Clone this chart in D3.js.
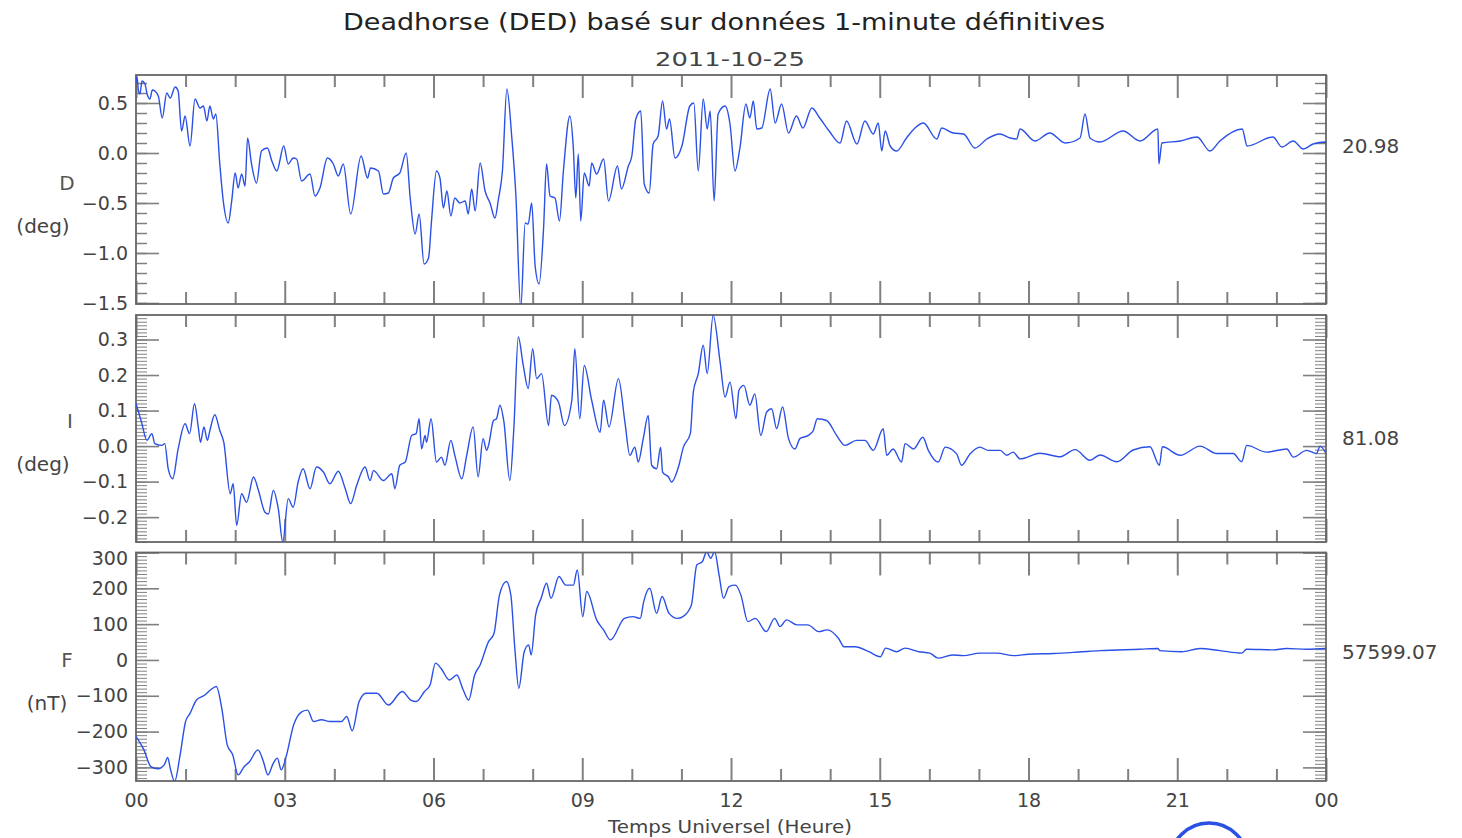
<!DOCTYPE html>
<html>
<head>
<meta charset="utf-8">
<title>Deadhorse (DED) 2011-10-25</title>
<script src="https://d3js.org/d3.v7.min.js"></script>
<style>
  body { margin: 0; padding: 0; background: #fff; }
  svg text { font-family: "DejaVu Sans", sans-serif; fill: #3c3c3c; }
  .axis text { font-size: 19px; fill: #444; }
  .axis line { stroke: #808080; }
</style>
</head>
<body>
<div id="chart"></div>
<script>

// hour ticks along the bottom
var majorHours = [0, 3, 6, 9, 12, 15, 18, 21, 24];
var hourLabels = ["00", "03", "06", "09", "12", "15", "18", "21", "00"];

// y tick values per component
var dTicks = [-1.5, -1.0, -0.5, 0.0, 0.5];
var iTicks = [-0.2, -0.1, 0.0, 0.1, 0.2, 0.3];
var fTicks = [-300, -200, -100, 0, 100, 200, 300];

var compNames = ["D", "I", "F"];
var compUnits = ["(deg)", "(deg)", "(nT)"];
var baselines = ["20.98", "81.08", "57599.07"];

// [hour UT, value]
var seriesD = [
[0.00,0.70],[0.02,0.76],[0.05,0.62],[0.08,0.59],[0.12,0.72],[0.18,0.69],[0.23,0.58],[0.28,0.54],[0.33,0.63],[0.38,0.62],
[0.45,0.57],[0.53,0.35],[0.62,0.60],[0.69,0.55],[0.79,0.66],[0.85,0.62],[0.92,0.22],[0.99,0.37],[1.09,0.07],[1.19,0.54],
[1.29,0.45],[1.36,0.47],[1.43,0.32],[1.49,0.47],[1.56,0.34],[1.61,0.39],[1.69,-0.11],[1.76,-0.48],[1.86,-0.70],[1.93,-0.48],
[2.00,-0.20],[2.06,-0.35],[2.13,-0.21],[2.20,-0.33],[2.25,0.15],[2.33,-0.11],[2.43,-0.30],[2.53,0.02],[2.65,0.05],[2.74,-0.08],
[2.84,-0.18],[2.98,0.07],[3.07,-0.11],[3.17,-0.05],[3.24,-0.06],[3.34,-0.28],[3.51,-0.21],[3.61,-0.43],[3.71,-0.35],[3.86,-0.05],
[3.98,-0.11],[4.08,-0.23],[4.18,-0.11],[4.33,-0.61],[4.54,-0.03],[4.67,-0.25],[4.73,-0.15],[4.89,-0.18],[4.99,-0.41],[5.09,-0.40],
[5.19,-0.25],[5.32,-0.20],[5.45,0.00],[5.53,-0.45],[5.63,-0.81],[5.71,-0.61],[5.81,-1.11],[5.90,-1.05],[5.96,-0.68],[6.06,-0.18],
[6.13,-0.25],[6.20,-0.55],[6.27,-0.38],[6.35,-0.63],[6.43,-0.45],[6.53,-0.50],[6.64,-0.48],[6.70,-0.61],[6.77,-0.36],[6.84,-0.58],
[6.94,-0.10],[7.04,-0.38],[7.14,-0.50],[7.24,-0.65],[7.31,-0.46],[7.39,-0.18],[7.48,0.64],[7.58,0.15],[7.66,-0.41],[7.76,-1.55],
[7.85,-0.70],[7.91,-0.71],[7.98,-0.50],[8.05,-1.13],[8.13,-1.31],[8.22,-0.75],[8.28,-0.11],[8.35,-0.43],[8.45,-0.45],[8.54,-0.68],
[8.62,-0.18],[8.75,0.37],[8.82,0.05],[8.87,-0.45],[8.92,-0.01],[8.97,-0.68],[9.04,-0.20],[9.14,-0.33],[9.19,-0.10],[9.29,-0.21],
[9.43,-0.06],[9.53,-0.48],[9.71,-0.13],[9.79,-0.36],[9.93,-0.13],[10.00,-0.03],[10.08,0.34],[10.18,0.42],[10.25,-0.31],[10.35,-0.40],
[10.43,0.09],[10.53,0.17],[10.62,0.52],[10.70,0.24],[10.76,0.34],[10.87,-0.05],[11.01,0.07],[11.17,0.47],[11.25,0.50],[11.34,-0.18],
[11.44,0.54],[11.52,0.24],[11.58,0.42],[11.66,-0.48],[11.74,0.39],[11.88,0.47],[11.98,0.29],[12.08,-0.18],[12.18,0.05],[12.30,0.49],
[12.38,0.35],[12.45,0.52],[12.52,0.24],[12.62,0.25],[12.79,0.64],[12.89,0.30],[13.02,0.49],[13.16,0.20],[13.32,0.37],[13.45,0.25],
[13.63,0.45],[13.79,0.35],[13.98,0.22],[14.20,0.10],[14.33,0.32],[14.54,0.09],[14.70,0.32],[14.87,0.19],[14.97,0.30],[15.04,0.02],
[15.11,0.22],[15.21,0.07],[15.34,0.02],[15.54,0.15],[15.71,0.25],[15.88,0.30],[16.15,0.14],[16.25,0.25],[16.48,0.20],[16.69,0.19],
[16.92,0.05],[17.16,0.14],[17.42,0.19],[17.63,0.15],[17.76,0.14],[17.83,0.24],[18.13,0.12],[18.43,0.20],[18.74,0.10],[19.04,0.15],
[19.14,0.39],[19.24,0.15],[19.44,0.11],[19.91,0.22],[20.25,0.12],[20.61,0.24],[20.63,-0.11],[20.69,0.10],[21.06,0.12],[21.40,0.16],
[21.66,0.02],[21.86,0.12],[22.31,0.24],[22.41,0.07],[22.93,0.16],[23.11,0.06],[23.34,0.12],[23.54,0.04],[23.74,0.09],[23.98,0.11],
[24.00,0.10]
];

var seriesI = [
[0.00,0.120],[0.11,0.068],[0.22,0.016],[0.32,0.035],[0.38,0.007],[0.52,0.002],[0.58,0.007],[0.65,-0.064],[0.74,-0.092],[0.85,-0.008],
[0.99,0.063],[1.08,0.035],[1.18,0.119],[1.26,0.049],[1.30,0.011],[1.37,0.054],[1.44,0.016],[1.49,0.044],[1.59,0.088],[1.69,0.044],
[1.77,0.011],[1.90,-0.134],[1.96,-0.106],[2.03,-0.223],[2.13,-0.134],[2.23,-0.158],[2.37,-0.087],[2.47,-0.125],[2.60,-0.186],[2.67,-0.191],
[2.77,-0.125],[2.87,-0.177],[2.96,-0.270],[3.07,-0.148],[3.17,-0.172],[3.27,-0.101],[3.37,-0.064],[3.51,-0.120],[3.64,-0.059],[3.78,-0.073],
[3.91,-0.106],[4.08,-0.071],[4.22,-0.120],[4.33,-0.162],[4.45,-0.111],[4.62,-0.059],[4.72,-0.097],[4.79,-0.069],[4.99,-0.097],[5.16,-0.078],
[5.22,-0.120],[5.32,-0.054],[5.43,-0.045],[5.56,0.030],[5.65,0.035],[5.71,0.077],[5.76,-0.008],[5.83,0.030],[5.86,0.011],[5.95,0.077],
[6.06,-0.045],[6.16,-0.031],[6.23,-0.054],[6.35,0.016],[6.43,-0.026],[6.57,-0.092],[6.67,-0.026],[6.80,0.054],[6.90,-0.087],[7.00,0.021],
[7.07,-0.012],[7.11,0.002],[7.21,0.072],[7.27,0.077],[7.34,0.115],[7.42,0.068],[7.54,-0.097],[7.62,0.049],[7.71,0.307],[7.81,0.227],
[7.91,0.162],[8.00,0.274],[8.08,0.190],[8.18,0.204],[8.32,0.058],[8.38,0.143],[8.52,0.124],[8.64,0.058],[8.79,0.129],[8.85,0.274],
[8.95,0.077],[9.04,0.227],[9.19,0.129],[9.36,0.039],[9.43,0.129],[9.54,0.054],[9.73,0.190],[9.86,0.068],[9.96,-0.026],[10.06,-0.003],
[10.13,-0.045],[10.23,0.021],[10.33,0.086],[10.40,-0.054],[10.50,-0.064],[10.58,-0.003],[10.62,-0.073],[10.74,-0.087],[10.80,-0.101],[10.94,-0.059],
[11.04,-0.003],[11.18,0.035],[11.24,0.152],[11.34,0.204],[11.44,0.284],[11.52,0.204],[11.64,0.368],[11.78,0.237],[11.88,0.138],[11.98,0.180],
[12.10,0.077],[12.16,0.157],[12.26,0.171],[12.38,0.115],[12.48,0.147],[12.60,0.030],[12.72,0.096],[12.82,0.105],[12.92,0.049],[13.04,0.110],
[13.16,0.021],[13.29,-0.008],[13.39,0.021],[13.56,0.030],[13.66,0.044],[13.74,0.077],[13.93,0.072],[14.13,0.030],[14.30,0.002],[14.53,0.016],
[14.70,0.016],[14.87,-0.012],[15.07,0.049],[15.14,-0.026],[15.27,-0.008],[15.44,-0.045],[15.51,0.007],[15.68,-0.008],[15.87,0.025],[15.98,-0.012],
[16.18,-0.045],[16.32,-0.003],[16.55,-0.022],[16.65,-0.054],[16.82,-0.022],[17.02,-0.003],[17.19,-0.012],[17.43,-0.012],[17.56,-0.026],[17.69,-0.017],
[17.83,-0.036],[18.23,-0.020],[18.64,-0.030],[18.94,-0.010],[19.24,-0.040],[19.44,-0.025],[19.78,-0.044],[20.11,-0.011],[20.45,-0.002],[20.64,-0.054],
[20.70,-0.002],[21.06,-0.026],[21.46,0.000],[21.80,-0.021],[22.13,-0.021],[22.30,-0.044],[22.40,0.002],[22.80,-0.017],[23.21,-0.008],[23.34,-0.031],
[23.61,-0.012],[23.81,-0.021],[23.88,0.000],[24.00,-0.021]
];

var seriesF = [
[0.00,-214],[0.16,-251],[0.30,-298],[0.44,-304],[0.57,-293],[0.64,-272],[0.69,-302],[0.78,-339],[0.89,-265],[1.00,-172],
[1.09,-149],[1.22,-112],[1.39,-98],[1.50,-84],[1.62,-74],[1.73,-135],[1.84,-237],[1.95,-265],[2.06,-321],[2.18,-298],
[2.29,-284],[2.46,-251],[2.57,-284],[2.66,-321],[2.77,-288],[2.85,-274],[2.93,-307],[3.02,-274],[3.18,-181],[3.35,-144],
[3.46,-140],[3.58,-172],[3.74,-167],[3.91,-172],[4.14,-172],[4.25,-158],[4.36,-198],[4.50,-116],[4.64,-93],[4.86,-93],
[5.09,-126],[5.37,-88],[5.54,-112],[5.65,-116],[5.82,-88],[5.93,-70],[6.04,-9],[6.15,-23],[6.32,-56],[6.47,-42],
[6.60,-84],[6.71,-112],[6.83,-42],[6.94,-14],[7.11,51],[7.22,74],[7.33,181],[7.47,219],[7.56,181],[7.64,33],
[7.72,-79],[7.83,23],[7.92,42],[7.97,14],[8.06,126],[8.17,172],[8.28,214],[8.37,172],[8.53,233],[8.67,209],
[8.82,209],[8.90,251],[9.01,121],[9.09,191],[9.29,112],[9.43,84],[9.57,56],[9.85,116],[10.02,121],[10.17,116],
[10.24,163],[10.36,200],[10.50,130],[10.61,177],[10.75,130],[10.92,116],[11.03,121],[11.20,153],[11.31,265],[11.42,274],
[11.51,302],[11.59,284],[11.67,302],[11.76,237],[11.85,172],[11.96,205],[12.09,209],[12.20,181],[12.34,107],[12.49,116],
[12.71,79],[12.88,116],[12.99,93],[13.12,112],[13.33,98],[13.55,98],[13.77,79],[13.94,84],[14.17,60],[14.28,37],
[14.50,37],[14.78,23],[15.01,9],[15.12,33],[15.34,23],[15.51,33],[15.79,23],[16.01,19],[16.18,5],[16.46,14],
[16.69,12],[17.02,19],[17.36,19],[17.70,12],[18.00,16],[18.50,18],[19.00,22],[19.44,26],[20.25,30],[20.61,32],
[20.65,26],[21.09,23],[21.46,32],[21.86,26],[22.30,19],[22.40,30],[22.93,28],[23.20,32],[23.61,30],[24.00,32]
];

var W = 1462, H = 838;
var xLeft = 136, xRight = 1326;
var lineColor = "#2b50e6";

var panels = [
	{data: seriesD, domain: [-1.51, 0.78], ticks: dTicks, minorStep: 0.1, fmt: d3.format(".1f"),
	 top: 75, bottom: 304, nameX: 67, unitX: 43, nameY: 183, unitY: 226, baseY: 146},
	{data: seriesI, domain: [-0.27, 0.369], ticks: iTicks, minorStep: 0.01, fmt: d3.format(".1f"),
	 top: 315, bottom: 542, nameX: 70, unitX: 43, nameY: 421, unitY: 464, baseY: 438},
	{data: seriesF, domain: [-338, 300], ticks: fTicks, minorStep: 10, fmt: d3.format("d"),
	 top: 552.5, bottom: 781, nameX: 67, unitX: 47, nameY: 660, unitY: 703, baseY: 652}
];

function stepValues(domain, step) {
	var a = Math.ceil(domain[0] / step - 1e-9),
		b = Math.floor(domain[1] / step + 1e-9);
	return d3.range(a, b + 1).map(function(k) { return +(k * step).toFixed(6); });
}

var svg = d3.select("#chart").append("svg")
	.attr("width", W)
	.attr("height", H);

var x = d3.scaleLinear().domain([0, 24]).range([xLeft, xRight]);
var minorHours = d3.range(0, 25).filter(function(h) { return h % 3 !== 0; });

function cleanAxis(g, width) {
	g.select(".domain").remove();
	g.selectAll(".tick line").attr("stroke-width", width);
}

panels.forEach(function(p, i) {
	var y = d3.scaleLinear().domain(p.domain).range([p.bottom, p.top]);
	var minor = stepValues(p.domain, p.minorStep);
	var minorW = p.minorStep < 0.05 || p.minorStep === 10 ? 1 : 1.5;

	// y ticks, left and right, pointing inward
	svg.append("g").attr("class", "axis").attr("transform", "translate(" + xLeft + ",0)")
		.call(d3.axisLeft(y).tickValues(minor).tickSize(-11).tickFormat(""))
		.call(cleanAxis, minorW);
	var yLab = svg.append("g").attr("class", "axis").attr("transform", "translate(" + xLeft + ",0)")
		.call(d3.axisLeft(y).tickValues(p.ticks).tickSize(-23).tickPadding(8).tickFormat(p.fmt))
		.call(cleanAxis, 1.6);
	// the top label of F sits a little inside the frame
	yLab.selectAll(".tick text").attr("dy", function(d) {
		return y(d) - p.top < 4 ? "0.62em" : "0.32em";
	});
	svg.append("g").attr("class", "axis").attr("transform", "translate(" + xRight + ",0)")
		.call(d3.axisRight(y).tickValues(minor).tickSize(-11).tickFormat(""))
		.call(cleanAxis, minorW);
	svg.append("g").attr("class", "axis").attr("transform", "translate(" + xRight + ",0)")
		.call(d3.axisRight(y).tickValues(p.ticks).tickSize(-23).tickFormat(""))
		.call(cleanAxis, 1.6);

	// hour ticks, top and bottom
	svg.append("g").attr("class", "axis").attr("transform", "translate(0," + p.bottom + ")")
		.call(d3.axisBottom(x).tickValues(minorHours).tickSize(-12).tickFormat(""))
		.call(cleanAxis, 2);
	svg.append("g").attr("class", "axis").attr("transform", "translate(0," + p.bottom + ")")
		.call(d3.axisBottom(x).tickValues(majorHours).tickSize(-23).tickFormat(""))
		.call(cleanAxis, 2);
	svg.append("g").attr("class", "axis").attr("transform", "translate(0," + p.top + ")")
		.call(d3.axisTop(x).tickValues(minorHours).tickSize(-12).tickFormat(""))
		.call(cleanAxis, 2);
	svg.append("g").attr("class", "axis").attr("transform", "translate(0," + p.top + ")")
		.call(d3.axisTop(x).tickValues(majorHours).tickSize(-23).tickFormat(""))
		.call(cleanAxis, 2);

	// frame
	svg.append("rect")
		.attr("x", xLeft).attr("y", p.top)
		.attr("width", xRight - xLeft).attr("height", p.bottom - p.top)
		.attr("fill", "none").attr("stroke", "#666").attr("stroke-width", 1.8);

	// clipped data line
	svg.append("clipPath").attr("id", "clip" + i)
		.append("rect")
		.attr("x", xLeft).attr("y", p.top)
		.attr("width", xRight - xLeft).attr("height", p.bottom - p.top);

	var line = d3.line()
		.curve(d3.curveMonotoneX)
		.x(function(d) { return x(d[0]); })
		.y(function(d) { return y(d[1]); });

	svg.append("path")
		.datum(p.data)
		.attr("clip-path", "url(#clip" + i + ")")
		.attr("d", line)
		.attr("fill", "none")
		.attr("stroke", lineColor)
		.attr("stroke-width", 1.4)
		.attr("stroke-linejoin", "round");

	// component name, unit and baseline
	svg.append("text").attr("x", p.nameX).attr("y", p.nameY)
		.attr("text-anchor", "middle").attr("dominant-baseline", "central")
		.style("font-size", "20px").style("fill", "#555")
		.text(compNames[i]);
	svg.append("text").attr("x", p.unitX).attr("y", p.unitY)
		.attr("text-anchor", "middle").attr("dominant-baseline", "central")
		.style("font-size", "20px").style("fill", "#444")
		.text(compUnits[i]);
	svg.append("text").attr("x", 1342).attr("y", p.baseY)
		.attr("dominant-baseline", "central")
		.style("font-size", "20px").style("fill", "#444")
		.text(baselines[i]);
});

// hour labels under the last panel
svg.append("g").attr("class", "axis").attr("transform", "translate(0," + panels[2].bottom + ")")
	.call(d3.axisBottom(x).tickValues(majorHours).tickSize(0).tickPadding(13)
		.tickFormat(function(d, i) { return hourLabels[i]; }))
	.call(function(g) { g.select(".domain").remove(); });

// titles
svg.append("text").attr("x", 343).attr("y", 22)
	.attr("dominant-baseline", "central")
	.attr("textLength", 762).attr("lengthAdjust", "spacingAndGlyphs")
	.style("font-size", "23px").style("fill", "#222")
	.text("Deadhorse (DED) basé sur données 1-minute définitives");
svg.append("text").attr("x", 730).attr("y", 59)
	.attr("text-anchor", "middle").attr("dominant-baseline", "central")
	.attr("textLength", 150).attr("lengthAdjust", "spacingAndGlyphs")
	.style("font-size", "20px").style("fill", "#444")
	.text("2011-10-25");
svg.append("text").attr("x", 730).attr("y", 826)
	.attr("text-anchor", "middle").attr("dominant-baseline", "central")
	.attr("textLength", 244).attr("lengthAdjust", "spacingAndGlyphs")
	.style("font-size", "18px").style("fill", "#444")
	.text("Temps Universel (Heure)");

// partial logo ring at the bottom edge
svg.append("circle")
	.attr("cx", 1209).attr("cy", 862).attr("r", 39)
	.attr("fill", "none").attr("stroke", lineColor).attr("stroke-width", 3.5);

</script>
</body>
</html>
